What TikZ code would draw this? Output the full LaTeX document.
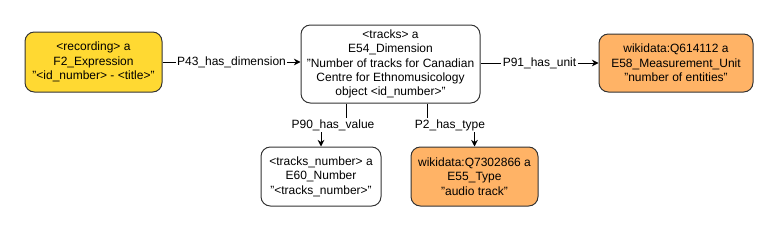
\documentclass[tikz,border=0pt]{standalone}
\usepackage{fontspec}
\setmainfont{Liberation Sans}
\usetikzlibrary{arrows.meta,positioning}
\definecolor{rdfYellow}{HTML}{FFD932}
\definecolor{rdfOrange}{HTML}{FFB366}
\definecolor{rdfLine}{HTML}{333333}
\tikzset{
  baseBox/.style={rectangle, rounded corners=7pt, line width=0.75pt, draw=rdfLine,
    align=center, inner sep=2pt, font=\fontsize{9}{10.8}\selectfont, text=black},
  classBox/.style={baseBox, fill=rdfYellow},
  entityBox/.style={baseBox, fill=white},
  wikiBox/.style={baseBox, fill=rdfOrange},
  rel/.style={-{Stealth[length=5pt, width=5pt]}, line width=0.75pt, color=black},
  relLabel/.style={font=\fontsize{9}{10.8}\selectfont, fill=white, inner sep=1pt},
}
\begin{document}
\begin{tikzpicture}[x=0.75pt,y=-0.75pt]
  \useasboundingbox (0,0) rectangle (779,232);

  \node[classBox, minimum width=102.75pt, minimum height=45pt] (recording) at (93.5,62)
    {<recording> a\\F2\_Expression\\"<id\_number> - <title>"};
  \node[entityBox, minimum width=134.25pt, minimum height=58.5pt] (tracks) at (390.5,64)
    {<tracks> a\\E54\_Dimension\\"Number of tracks for Canadian\\Centre for Ethnomusicology\\object <id\_number>"};
  \node[wikiBox, minimum width=115.5pt, minimum height=43.5pt] (unit) at (676,63)
    {wikidata:Q614112 a\\E58\_Measurement\_Unit\\"number of entities"};
  \node[entityBox, minimum width=90pt, minimum height=44.25pt] (number) at (321,176.5)
    {<tracks\_number> a\\E60\_Number\\"<tracks\_number>"};
  \node[wikiBox, minimum width=95.25pt, minimum height=44.25pt] (type) at (474.5,176.5)
    {wikidata:Q7302866 a\\E55\_Type\\"audio track"};

  \coordinate (valueTop) at (346,103);
  \coordinate (typeTop) at (427,103);

  \draw[rel] (recording.east) -- node[relLabel] {P43\_has\_dimension} (tracks.west |- recording.east);
  \draw[rel] (tracks.east |- unit.west) -- node[relLabel] {P91\_has\_unit} (unit.west);
  \draw[rel] (tracks.south -| valueTop) |- (333,125) node[relLabel] {P90\_has\_value} -| (number.north);
  \draw[rel] (tracks.south -| typeTop) |- (450,125) node[relLabel] {P2\_has\_type} -| (type.north);
\end{tikzpicture}
\end{document}
